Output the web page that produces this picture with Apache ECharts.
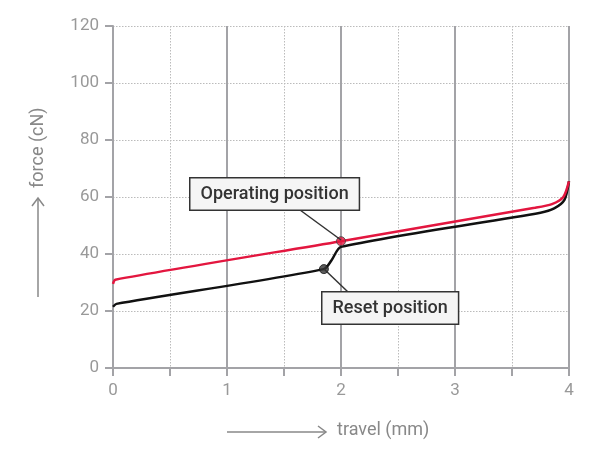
<!DOCTYPE html>
<html>
<head>
<meta charset="utf-8">
<script src="https://cdn.jsdelivr.net/npm/echarts@6/dist/echarts.min.js"></script>
<style>html,body{margin:0;padding:0;background:#fff}#chart{width:600px;height:462px}</style>
</head>
<body>
<div id="chart"></div>
<script>
// travel (mm), force (cN)
var operatingCurve = [[0, 29.5], [0.02, 31], [2, 44.5], [3.7, 56.2], [3.85, 57.5], [3.95, 60], [4, 65.5]];
var resetCurve = [[0, 21.5], [0.03, 22.5], [1.85, 34.7], [1.92, 38], [2, 42.5], [3.75, 54.5], [3.87, 56], [3.96, 59], [4, 65.5]];
var operatingPoint = [[2, 44.5]];
var resetPoint = [[1.85, 34.7]];
var xTicks = [0, 1, 2, 3, 4];

var gray = '#a3a3a7';
var font = 'Roboto, "Open Sans", sans-serif';
var chart = echarts.init(document.getElementById('chart'));

function labelBox(x, y, text) {
    return {
        type: 'text', left: x, top: y, z: 100,
        style: {
            text: text, fill: '#333', font: '500 18px ' + font,
            backgroundColor: '#f5f5f5', borderColor: '#333', borderWidth: 1.5,
            padding: [7, 10, 6, 10]
        }
    };
}

chart.setOption({
    animation: false,
    grid: { left: 113, right: 31, top: 26, bottom: 94 },
    xAxis: [{
        type: 'value', min: 0, max: 4, interval: 0.5, position: 'top',
        axisLine: { show: true, lineStyle: { color: gray, width: 2 } },
        axisTick: { show: false }, axisLabel: { show: false },
        splitLine: { show: true, lineStyle: { color: '#bbb', type: [1.5, 1.5], width: 1 } }
    }, {
        type: 'value', min: 0, max: 4, interval: 0.5, position: 'bottom',
        axisLine: { show: true, onZero: false, lineStyle: { color: gray, width: 2 } },
        axisTick: { show: true, length: 8, lineStyle: { color: gray, width: 2 } },
        axisLabel: {
            color: '#999', fontSize: 17, fontFamily: font, margin: 14,
            formatter: function (v) { return xTicks.indexOf(v) >= 0 ? String(v) : ''; }
        },
        splitLine: { show: false }
    }, {
        type: 'value', min: 0, max: 4, interval: 1, position: 'bottom',
        axisLine: { show: false }, axisTick: { show: false }, axisLabel: { show: false },
        splitLine: { show: true, lineStyle: { color: gray, width: 2 } }
    }],
    yAxis: {
        type: 'value', min: 0, max: 120, interval: 20,
        axisLine: { show: true, lineStyle: { color: gray, width: 2 } },
        axisTick: { show: true, length: 8, lineStyle: { color: gray, width: 2 } },
        axisLabel: { color: '#999', fontSize: 17, fontFamily: font, margin: 14 },
        splitLine: { show: true, lineStyle: { color: '#bbb', type: [1.5, 1.5], width: 1 } }
    },
    series: [{
        type: 'line', xAxisIndex: 1, data: resetCurve, smooth: 0.25, symbol: 'none',
        lineStyle: { color: '#111', width: 2.5 }
    }, {
        type: 'line', xAxisIndex: 1, data: operatingCurve, smooth: 0.25, symbol: 'none',
        lineStyle: { color: '#e3163f', width: 2.5 }
    }, {
        type: 'scatter', xAxisIndex: 1, data: operatingPoint, symbolSize: 9, z: 10,
        itemStyle: { color: '#e3163f', borderColor: '#444', borderWidth: 1 }
    }, {
        type: 'scatter', xAxisIndex: 1, data: resetPoint, symbolSize: 9, z: 10,
        itemStyle: { color: '#333', borderColor: '#111', borderWidth: 1 }
    }],
    graphic: [
        // leader lines
        { type: 'line', shape: { x1: 300, y1: 210, x2: 341, y2: 240 }, style: { stroke: '#333', lineWidth: 1.5 }, z: 50 },
        { type: 'line', shape: { x1: 324, y1: 269, x2: 348, y2: 292 }, style: { stroke: '#333', lineWidth: 1.5 }, z: 50 },
        labelBox(189, 177, 'Operating position'),
        labelBox(321, 291, 'Reset position'),
        // axis names with arrows
        { type: 'line', shape: { x1: 227, y1: 432, x2: 325, y2: 432 }, style: { stroke: '#888', lineWidth: 1.5 } },
        { type: 'polyline', shape: { points: [[318, 426], [326, 432], [318, 438]] }, style: { stroke: '#888', fill: null, lineWidth: 1.5 } },
        { type: 'text', left: 337, top: 421, style: { text: 'travel (mm)', fill: '#888', font: '18px ' + font } },
        { type: 'line', shape: { x1: 38, y1: 297, x2: 38, y2: 199 }, style: { stroke: '#888', lineWidth: 1.5 } },
        { type: 'polyline', shape: { points: [[32, 206], [38, 198], [44, 206]] }, style: { stroke: '#888', fill: null, lineWidth: 1.5 } },
        { type: 'text', x: 38, y: 188, rotation: Math.PI / 2, style: { text: 'force (cN)', fill: '#888', font: '18px ' + font, align: 'left', verticalAlign: 'middle' } }
    ]
});
</script>
</body>
</html>
